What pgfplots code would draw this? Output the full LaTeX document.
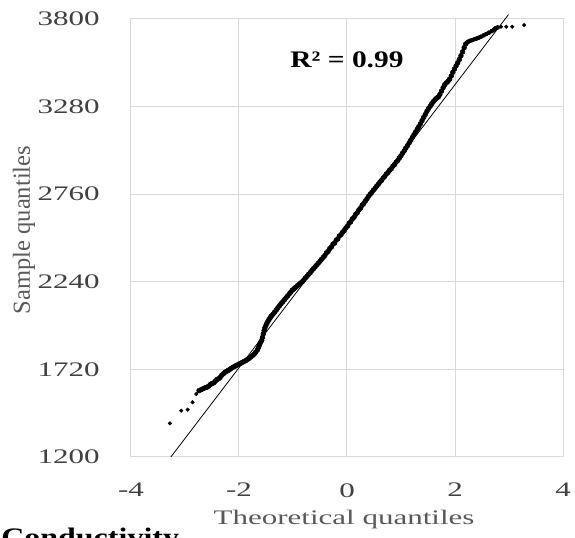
\documentclass[border=0pt]{standalone}
\usepackage{pgfplots}
\pgfplotsset{compat=1.18}
\usepackage{fontspec}
\setmainfont{Liberation Serif}
\newfontfamily\widefont{Liberation Serif}[FakeStretch=1.5]
\newfontfamily\notefont{Liberation Serif}[FakeStretch=1.24]
\newfontfamily\capfont{Liberation Serif}[FakeStretch=1.2]
\definecolor{gridgray}{HTML}{D9D9D9}
\definecolor{ticktext}{HTML}{404040}
\definecolor{labeltext}{HTML}{595959}

\begin{document}
\begin{tikzpicture}
\begin{scope}
\clip (-98.25pt,-60.75pt) rectangle (333pt,342.75pt);
\begin{axis}[
  at={(0,0)}, anchor=south west,
  scale only axis, width=324pt, height=328.5pt,
  xmin=-4, xmax=4, ymin=1200, ymax=3800,
  xtick={-4,-2,0,2,4},
  ytick={1200,1720,2240,2760,3280,3800},
  grid=major,
  major grid style={draw=gridgray, line width=0.75pt},
  axis line style={draw=gridgray, line width=0.75pt},
  tick style={draw=none},
  /pgf/number format/assume math mode=true,
  /pgf/number format/1000 sep={},
  ticklabel style={font=\widefont\fontsize{15.5pt}{18pt}\selectfont, text=ticktext, inner sep=0pt},
  yticklabel style={anchor=east, xshift=-23.25pt},
  xticklabel style={anchor=north, yshift=-19.5pt},
  clip=false,
]
% fitted normal reference line
\addplot[black, line width=0.6pt] coordinates {(-3.262,1200) (2.99,3826)};
% sample quantiles against theoretical quantiles: sparse tails
\addplot[only marks, mark=*, mark size=1.3pt, black] coordinates {
(-3.28,1400) (-3.07,1475) (-2.95,1481) (-2.86,1525) (-2.79,1574)
(2.85,3754) (2.95,3754) (3.06,3754) (3.28,3764)
};
% upper shoulder
\addplot[only marks, mark=*, mark size=1.5pt, black] coordinates {
(2.23,3662) (2.26,3668) (2.29,3672) (2.32,3675) (2.36,3680)
(2.40,3684) (2.44,3689) (2.48,3695) (2.53,3703) (2.58,3711) (2.63,3719)
(2.68,3728) (2.72,3737) (2.75,3745) (2.79,3750)
};
% dense central body
\addplot[only marks, mark=*, mark size=1.8pt, black] coordinates {
(-2.74,1594)
(-2.70,1600) (-2.66,1606) (-2.62,1612) (-2.59,1615) (-2.56,1621) (-2.53,1630)
(-2.50,1636) (-2.47,1640) (-2.44,1649) (-2.41,1660) (-2.38,1664) (-2.35,1672)
(-2.32,1685) (-2.29,1694) (-2.26,1703) (-2.23,1709) (-2.20,1714) (-2.17,1720)
(-2.14,1727) (-2.11,1733) (-2.08,1738) (-2.05,1743) (-2.02,1748) (-1.99,1753)
(-1.96,1758) (-1.93,1763) (-1.90,1768) (-1.87,1773) (-1.84,1780) (-1.81,1786)
(-1.78,1794) (-1.75,1802) (-1.72,1810) (-1.69,1822) (-1.66,1835) (-1.64,1850)
(-1.62,1866) (-1.60,1880) (-1.58,1892) (-1.565,1910) (-1.55,1930) (-1.535,1950)
(-1.52,1967) (-1.50,1982) (-1.48,1996) (-1.46,2008) (-1.44,2018) (-1.42,2028)
(-1.40,2037) (-1.37,2048) (-1.34,2060) (-1.31,2072) (-1.28,2086) (-1.25,2098)
(-1.22,2110) (-1.19,2121) (-1.16,2133) (-1.13,2144) (-1.10,2156) (-1.07,2168)
(-1.04,2179) (-1.01,2191) (-0.98,2199) (-0.95,2208) (-0.92,2216) (-0.89,2224)
(-0.86,2233) (-0.83,2240) (-0.80,2251) (-0.77,2263) (-0.74,2273) (-0.71,2285)
(-0.68,2295) (-0.65,2307) (-0.62,2318) (-0.59,2329) (-0.56,2340) (-0.53,2351)
(-0.50,2362) (-0.47,2374) (-0.44,2385) (-0.41,2396) (-0.38,2412) (-0.35,2420)
(-0.32,2437) (-0.29,2446) (-0.26,2463) (-0.23,2470) (-0.20,2487) (-0.17,2495)
(-0.14,2512) (-0.11,2520) (-0.08,2535) (-0.05,2545) (-0.02,2560) (0.01,2571)
(0.04,2587) (0.07,2597) (0.10,2614) (0.13,2623) (0.16,2640) (0.19,2650)
(0.22,2667) (0.25,2677) (0.28,2694) (0.31,2705) (0.34,2720) (0.37,2733)
(0.40,2748) (0.43,2760) (0.46,2771) (0.49,2784) (0.52,2795) (0.55,2808)
(0.58,2819) (0.61,2832) (0.64,2842) (0.67,2856) (0.70,2866) (0.73,2880)
(0.76,2889) (0.79,2903) (0.82,2912) (0.85,2926) (0.88,2936) (0.91,2950)
(0.94,2960) (0.97,2975) (1.00,2988) (1.03,3004) (1.06,3018) (1.09,3034)
(1.12,3048) (1.15,3064) (1.18,3080) (1.21,3097) (1.24,3113) (1.27,3129)
(1.30,3145) (1.33,3161) (1.36,3178) (1.39,3197) (1.42,3216) (1.45,3233)
(1.48,3252) (1.51,3268) (1.54,3282) (1.57,3297) (1.60,3310) (1.63,3321)
(1.66,3330) (1.69,3337) (1.72,3352) (1.75,3372) (1.78,3392) (1.81,3410)
(1.84,3421) (1.87,3430) (1.90,3443) (1.93,3462) (1.96,3484) (1.99,3503)
(2.02,3522) (2.05,3540) (2.08,3560) (2.11,3582) (2.14,3605) (2.17,3630)
(2.20,3652)
};
\node[anchor=base, inner sep=0pt, font=\notefont\bfseries\fontsize{17.8pt}{20pt}\selectfont]
  at (axis cs:0,3513) {R² = 0.99};
\end{axis}
% axis titles and panel caption
\node[anchor=base, inner sep=0pt, text=labeltext, font=\widefont\fontsize{15.5pt}{18pt}\selectfont]
  at (159.75pt,-51pt) {Theoretical quantiles};
\node[anchor=base, rotate=90, inner sep=0pt, text=labeltext, font=\fontsize{18.4pt}{22pt}\selectfont]
  at (-75.75pt,170.25pt) {Sample quantiles};
\node[anchor=north west, inner sep=0pt, font=\capfont\bfseries\fontsize{20pt}{24pt}\selectfont]
  at (-97.5pt,-53.25pt) {Conductivity};
\end{scope}
\pgfresetboundingbox
\useasboundingbox (-98.25pt,-60.75pt) rectangle (333pt,342.75pt);
\end{tikzpicture}
\end{document}
